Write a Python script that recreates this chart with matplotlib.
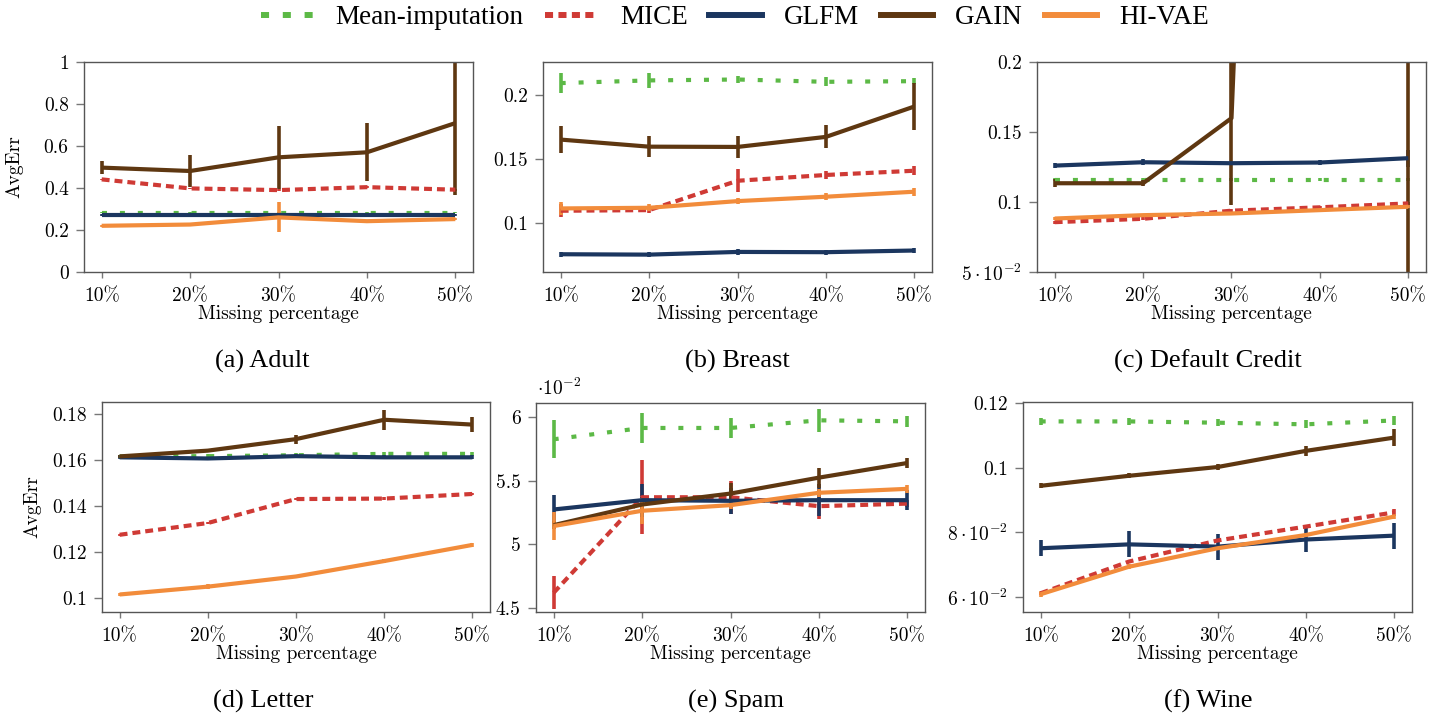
import numpy as np
import matplotlib
matplotlib.use("Agg")
import matplotlib.pyplot as plt
from matplotlib.lines import Line2D

plt.rcParams['mathtext.fontset'] = 'cm'
plt.rcParams['axes.formatter.use_mathtext'] = True

# ============================================================
# DATA  (x = missing percentage)
# ============================================================
x = [10, 20, 30, 40, 50]
x_labels = ['10%', '20%', '30%', '40%', '50%']
methods = ['Mean-imputation', 'MICE', 'GLFM', 'GAIN', 'HI-VAE']

# (a) Adult
adult_vals = {'Mean-imputation': [0.283, 0.283, 0.283, 0.283, 0.283],
              'MICE': [0.441, 0.398, 0.390, 0.404, 0.392],
              'GLFM': [0.272, 0.272, 0.272, 0.272, 0.272],
              'GAIN': [0.497, 0.481, 0.546, 0.570, 0.709],
              'HI-VAE': [0.220, 0.226, 0.260, 0.242, 0.252]}
adult_errs = {'Mean-imputation': [0.004, 0.004, 0.004, 0.004, 0.004],
              'MICE': [0.004, 0.004, 0.004, 0.004, 0.004],
              'GLFM': [0.005, 0.005, 0.005, 0.005, 0.005],
              'GAIN': [0.030, 0.078, 0.151, 0.139, 0.343],
              'HI-VAE': [0.004, 0.004, 0.071, 0.004, 0.006]}

# (b) Breast
breast_vals = {'Mean-imputation': [0.2091, 0.2112, 0.2119, 0.2101, 0.2106],
               'MICE': [0.1099, 0.1104, 0.1332, 0.1377, 0.1410],
               'GLFM': [0.0761, 0.0758, 0.0779, 0.0777, 0.0790],
               'GAIN': [0.1652, 0.1597, 0.1595, 0.1673, 0.1909],
               'HI-VAE': [0.1117, 0.1122, 0.1174, 0.1208, 0.1247]}
breast_errs = {'Mean-imputation': [0.0080, 0.0056, 0.0026, 0.0035, 0.0025],
               'MICE': [0.0050, 0.0023, 0.0090, 0.0030, 0.0035],
               'GLFM': [0.0020, 0.0020, 0.0020, 0.0020, 0.0020],
               'GAIN': [0.0107, 0.0084, 0.0088, 0.0090, 0.0186],
               'HI-VAE': [0.0050, 0.0026, 0.0023, 0.0028, 0.0030]}

# (c) Default Credit
credit_vals = {'Mean-imputation': [0.1160, 0.1160, 0.1160, 0.1160, 0.1160],
               'MICE': [0.0856, 0.0880, 0.0938, 0.0962, 0.0990],
               'GLFM': [0.1260, 0.1284, 0.1277, 0.1282, 0.1313],
               'GAIN': [0.1134, 0.1134, 0.1599, 1.7000, 1.2000],
               'HI-VAE': [0.0882, 0.0906, 0.0918, 0.0942, 0.0966]}
credit_errs = {'Mean-imputation': [0.001, 0.001, 0.001, 0.001, 0.001],
               'MICE': [0.001, 0.001, 0.001, 0.001, 0.001],
               'GLFM': [0.002, 0.002, 0.001, 0.002, 0.006],
               'GAIN': [0.003, 0.002, 0.062, 0.100, 1.200],
               'HI-VAE': [0.001, 0.001, 0.001, 0.001, 0.001]}

# (d) Letter
letter_vals = {'Mean-imputation': [0.1616, 0.1617, 0.1621, 0.1627, 0.1627],
               'MICE': [0.1276, 0.1327, 0.1431, 0.1433, 0.1453],
               'GLFM': [0.1612, 0.1607, 0.1617, 0.1612, 0.1612],
               'GAIN': [0.1616, 0.1641, 0.1691, 0.1775, 0.1754],
               'HI-VAE': [0.1017, 0.1051, 0.1095, 0.1162, 0.1232]}
letter_errs = {'Mean-imputation': [0.0008, 0.0008, 0.0008, 0.0008, 0.0008],
               'MICE': [0.0005, 0.0005, 0.0005, 0.0005, 0.0005],
               'GLFM': [0.0008, 0.0008, 0.0008, 0.0008, 0.0008],
               'GAIN': [0.0008, 0.0008, 0.0020, 0.0043, 0.0033],
               'HI-VAE': [0.0008, 0.0012, 0.0008, 0.0010, 0.0010]}

# (e) Spam  (real values, axis shows them in units of 1e-2)
spam_vals = {'Mean-imputation': [0.05825, 0.05914, 0.05914, 0.05974, 0.05966],
             'MICE': [0.04620, 0.05370, 0.05370, 0.05300, 0.05320],
             'GLFM': [0.05274, 0.05347, 0.05342, 0.05347, 0.05347],
             'GAIN': [0.05151, 0.05313, 0.05399, 0.05524, 0.05639],
             'HI-VAE': [0.05144, 0.05264, 0.05308, 0.05405, 0.05436]}
spam_errs = {'Mean-imputation': [0.00148, 0.00115, 0.00076, 0.00091, 0.00043],
             'MICE': [0.00130, 0.00290, 0.00130, 0.00098, 0.00030],
             'GLFM': [0.00117, 0.00130, 0.00104, 0.00124, 0.00078],
             'GAIN': [0.00030, 0.00030, 0.00080, 0.00078, 0.00043],
             'HI-VAE': [0.00107, 0.00104, 0.00030, 0.00030, 0.00030]}

# (f) Wine
wine_vals = {'Mean-imputation': [0.1143, 0.1143, 0.1139, 0.1134, 0.1146],
             'MICE': [0.0612, 0.0710, 0.0775, 0.0818, 0.0862],
             'GLFM': [0.0751, 0.0763, 0.0756, 0.0778, 0.0790],
             'GAIN': [0.0944, 0.0975, 0.1002, 0.1052, 0.1093],
             'HI-VAE': [0.0609, 0.0694, 0.0751, 0.0792, 0.0849]}
wine_errs = {'Mean-imputation': [0.0010, 0.0012, 0.0010, 0.0012, 0.0015],
             'MICE': [0.0005, 0.0005, 0.0005, 0.0005, 0.0010],
             'GLFM': [0.0025, 0.0040, 0.0040, 0.0040, 0.0040],
             'GAIN': [0.0008, 0.0008, 0.0008, 0.0015, 0.0027],
             'HI-VAE': [0.0010, 0.0008, 0.0005, 0.0005, 0.0008]}

# y ticks / labels per panel
adult_yticks = [0, 0.2, 0.4, 0.6, 0.8, 1.0]
adult_ylabels = ['0', '0.2', '0.4', '0.6', '0.8', '1']
breast_yticks = [0.1, 0.15, 0.2]
breast_ylabels = ['0.1', '0.15', '0.2']
credit_yticks = [0.05, 0.1, 0.15, 0.2]
credit_ylabels = [r'$5\cdot10^{-2}$', '0.1', '0.15', '0.2']
letter_yticks = [0.1, 0.12, 0.14, 0.16, 0.18]
letter_ylabels = ['0.1', '0.12', '0.14', '0.16', '0.18']
spam_yticks = [0.045, 0.05, 0.055, 0.06]
spam_ylabels = ['4.5', '5', '5.5', '6']
wine_yticks = [0.06, 0.08, 0.1, 0.12]
wine_ylabels = [r'$6\cdot10^{-2}$', r'$8\cdot10^{-2}$', '0.1', '0.12']

# ============================================================
# STYLE
# ============================================================
colors = {'Mean-imputation': '#5cb946', 'MICE': '#cf3a35', 'GLFM': '#1b365f',
          'GAIN': '#5e3711', 'HI-VAE': '#f28c3b'}
styles = {'Mean-imputation': (0, (1.2, 3.1)), 'MICE': (0, (1.9, 1.2)),
          'GLFM': '-', 'GAIN': '-', 'HI-VAE': '-'}
legend_styles = {'Mean-imputation': (0, (1.35, 2.3)), 'MICE': (0, (1.35, 0.9)),
                 'GLFM': '-', 'GAIN': '-', 'HI-VAE': '-'}
LW = 3.0
CM = 'cmr10'
TIMES = 'Liberation Serif'

W, H = 1454, 721
fig = plt.figure(figsize=(W / 100, H / 100), dpi=100)


def px_axes(left, top, right, bottom):
    return fig.add_axes([left / W, 1 - bottom / H, (right - left) / W, (bottom - top) / H])


panels = [
    # vals, errs, box (l, t, r, b), ylim, yticks, ylabels, caption, caption pos, ylabel x
    (adult_vals, adult_errs, (84, 62, 473, 272), (0, 1.0), adult_yticks, adult_ylabels,
     '(a) Adult', (262, 361), 14),
    (breast_vals, breast_errs, (543, 62, 932, 272), (0.0623, 0.2255), breast_yticks, breast_ylabels,
     '(b) Breast', (737, 361), None),
    (credit_vals, credit_errs, (1037, 62, 1426, 272), (0.05, 0.2), credit_yticks, credit_ylabels,
     '(c) Default Credit', (1208, 361), None),
    (letter_vals, letter_errs, (102, 402, 490, 612), (0.0941, 0.1852), letter_yticks, letter_ylabels,
     '(d) Letter', (263, 701), 32),
    (spam_vals, spam_errs, (536, 403, 925, 612), (0.04469, 0.0611), spam_yticks, spam_ylabels,
     '(e) Spam', (736, 701), None),
    (wine_vals, wine_errs, (1023, 402, 1412, 612), (0.0554, 0.1203), wine_yticks, wine_ylabels,
     '(f) Wine', (1208, 701), None),
]

for vals, errs, box, ylim, yt, yl, cap, cap_pos, ylab_x in panels:
    ax = px_axes(*box)
    for m in methods:
        ax.errorbar(x, vals[m], yerr=errs[m], color=colors[m], linestyle=styles[m],
                    linewidth=LW, elinewidth=2.6, capsize=0, solid_capstyle='butt',
                    dash_capstyle='butt')
    ax.set_xlim(8.0, 52.0)
    ax.set_ylim(*ylim)
    ax.set_xticks(x)
    ax.set_xticklabels(x_labels, fontfamily=CM, fontsize=14)
    ax.set_yticks(yt)
    ax.set_yticklabels(yl, fontfamily=CM, fontsize=14)
    ax.tick_params(axis='x', direction='out', length=4, pad=7, color='#777777', width=1)
    ax.tick_params(axis='y', direction='out', length=6, pad=5, color='#777777', width=1)
    for s in ax.spines.values():
        s.set_color('#555555')
        s.set_linewidth(1.0)
    ax.set_xlabel('Missing percentage', fontfamily=CM, fontsize=14, labelpad=0)
    if ylab_x is not None:
        fig.text(ylab_x / W, 1 - ((box[1] + box[3]) / 2) / H, 'AvgErr', rotation=90,
                 fontfamily=CM, fontsize=14, ha='center', va='center')
    fig.text(cap_pos[0] / W, 1 - cap_pos[1] / H, cap, fontfamily=TIMES, fontsize=19,
             ha='center', va='center')

# offset label for Spam panel
fig.text(537 / W, 1 - 388 / H, r'$\cdot10^{-2}$', fontsize=14, ha='left', va='center')

# ============================================================
# LEGEND
# ============================================================
handles = [Line2D([], [], color=colors[m], linestyle=legend_styles[m], linewidth=4.3,
                  dash_capstyle='butt') for m in methods]
fig.legend(handles, methods, loc='center', bbox_to_anchor=(735 / W, 1 - 18 / H), ncol=5,
           frameon=False, prop={'family': TIMES, 'size': 19.5}, handlelength=1.95,
           handletextpad=0.8, columnspacing=0.8, borderpad=0)

plt.savefig('out.png', dpi=100)
